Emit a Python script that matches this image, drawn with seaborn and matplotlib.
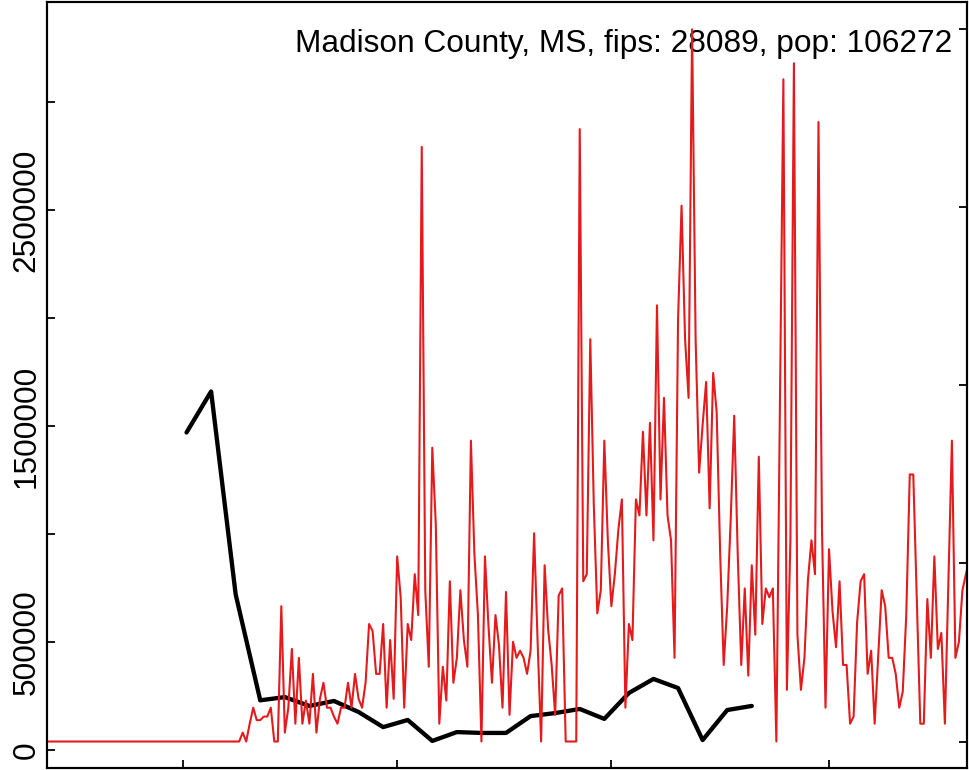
"""
Madison County, MS: daily series (red, right axis) and weekly series (black, left axis).
"""

import pandas as pd
import matplotlib
matplotlib.use("Agg")  # no display
import matplotlib.pyplot as plt
import seaborn as sns

TITLE = "Madison County, MS, fips: 28089, pop: 106272"

# daily values, right axis, first day 2021-01-21
RED_START = "2021-01-21"
red_vals = [
    0.00, 0.00, 0.00, 0.00, 0.00, 0.00, 0.00, 0.00, 0.00, 0.00,
    0.00, 0.00, 0.00, 0.00, 0.00, 0.00, 0.00, 0.00, 0.00, 0.00,
    0.00, 0.00, 0.00, 0.00, 0.00, 0.00, 0.00, 0.00, 0.00, 0.00,
    0.00, 0.00, 0.00, 0.00, 0.00, 0.00, 0.00, 0.00, 0.00, 0.00,
    0.00, 0.00, 0.00, 0.00, 0.00, 0.00, 0.00, 0.00, 0.00, 0.00,
    0.00, 0.00, 0.00, 0.00, 0.00, 0.00,
    0.05, 0.00, 0.10, 0.19, 0.12, 0.12, 0.14, 0.14, 0.19, 0.00,
    0.00, 0.76, 0.05, 0.19, 0.52, 0.10, 0.47, 0.10, 0.23, 0.10,
    0.38, 0.05, 0.24, 0.33, 0.19, 0.19, 0.14, 0.10, 0.19, 0.19,
    0.33, 0.19, 0.38, 0.24, 0.19, 0.33, 0.66, 0.62, 0.38, 0.38,
    0.66, 0.19, 0.57, 0.24, 1.04, 0.81, 0.19, 0.66, 0.57, 0.94,
    0.71, 3.34, 0.85, 0.42, 1.65, 1.22, 0.10, 0.42, 0.23, 0.90,
    0.33, 0.47, 0.85, 0.57, 0.42, 1.69, 1.05, 0.71, 0.00, 1.04,
    0.65, 0.33, 0.71, 0.54, 0.19, 0.84, 0.15, 0.56, 0.47, 0.51,
    0.47, 0.38, 0.51, 1.17, 0.56, 0.00, 0.99, 0.63, 0.43, 0.15,
    0.82, 0.86, 0.00, 0.00, 0.00, 0.00, 3.44, 0.90, 0.94, 2.26,
    1.33, 0.72, 0.85, 1.69, 1.13, 0.76, 0.94, 1.19, 1.36, 0.19,
    0.66, 0.57, 1.36, 1.27, 1.74, 1.27, 1.79, 1.13, 2.45, 1.36,
    1.93, 1.27, 1.13, 0.47, 2.37, 3.01, 2.26, 1.93, 4.00, 2.26,
    1.51, 1.78, 2.02, 1.31, 2.07, 1.85, 1.05, 0.43, 0.76, 1.25,
    1.83, 1.05, 0.43, 0.86, 0.37, 0.99, 0.60, 1.60, 0.66, 0.86,
    0.81, 0.86, 0.00, 1.86, 3.72, 0.29, 1.13, 3.81, 0.60, 0.29,
    0.47, 0.91, 1.13, 0.94, 3.48, 1.19, 0.19, 1.08, 0.73, 0.53,
    0.90, 0.43, 0.43, 0.10, 0.14, 0.67, 0.90, 0.94, 0.38, 0.51,
    0.10, 0.47, 0.85, 0.76, 0.47, 0.47, 0.38, 0.19, 0.28, 0.71,
    1.50, 1.50, 0.79, 0.10, 0.10, 0.80, 0.47, 1.04, 0.52, 0.61,
    0.10, 0.90, 1.69, 0.47, 0.56, 0.85, 0.94, 1.02,
]

# weekly values, left axis, first week 2021-03-02
BLACK_START = "2021-03-02"
black_vals = [
    1470000, 1660000, 720000, 230000, 245000, 204000, 227000, 176000,
    106000, 139000, 42000, 83000, 79000, 79000, 157000, 171000,
    190000, 144000, 264000, 329000, 287000, 46000, 185000, 204000,
]

left_ticks = [0, 500000, 1000000, 1500000, 2000000, 2500000, 3000000]
left_labels = ["0", "500000", "", "1500000", "", "2500000", ""]
right_ticks = [0, 1, 2, 3, 4]
x_ticks = ["2021-03-01", "2021-05-01", "2021-07-01", "2021-09-01"]


red_df = pd.DataFrame({
    "date": pd.date_range(RED_START, periods=len(red_vals), freq="D"),
    "value": red_vals,
})
black_df = pd.DataFrame({
    "date": pd.date_range(BLACK_START, periods=len(black_vals), freq="7D"),
    "value": black_vals,
})

sns.set_theme(style="white")
plt.rcParams["font.family"] = ["Liberation Sans", "DejaVu Sans"]

fig = plt.figure(figsize=(9.69, 7.70), dpi=100)
ax = fig.add_axes([47 / 969, 2.5 / 770, 920 / 969, 765.5 / 770])
ax2 = ax.twinx()

sns.lineplot(data=black_df, x="date", y="value", color="black",
             linewidth=3.1, solid_capstyle="round", ax=ax)
sns.lineplot(data=red_df, x="date", y="value", color="#E41A1C",
             linewidth=1.5, ax=ax2)

base = pd.Timestamp("2021-03-01")
ax.set_xlim(base + pd.Timedelta(days=-38.74), base + pd.Timedelta(days=223.3))
ax.set_ylim(-81000, 3463000)
ax2.set_ylim(-0.146, 4.154)

for a in (ax, ax2):
    a.set_xlabel("")
    a.set_ylabel("")
    for s in a.spines.values():
        s.set_visible(True)
        s.set_color("black")
        s.set_linewidth(1.5)

ax.set_xticks(pd.to_datetime(x_ticks))
ax.set_xticklabels([])
ax.set_yticks(left_ticks)
ax.set_yticklabels(left_labels)
ax.tick_params(axis="both", direction="in", length=5.8, width=1.3,
               color="black", left=True, bottom=True, right=False, top=False)
ax.tick_params(axis="y", labelsize=22.75, pad=4, labelrotation=90,
               labelcolor="black")
for lbl in ax.get_yticklabels():
    lbl.set_va("center")

ax2.set_yticks(right_ticks)
ax2.tick_params(axis="y", direction="in", length=5.8, width=1.3,
                color="black", right=True, labelright=False)

ax.text(0.9837, 0.9347, TITLE, transform=ax.transAxes, ha="right",
        va="baseline", fontsize=22.75, color="black")

fig.savefig("out.png", dpi=100)
plt.close(fig)
